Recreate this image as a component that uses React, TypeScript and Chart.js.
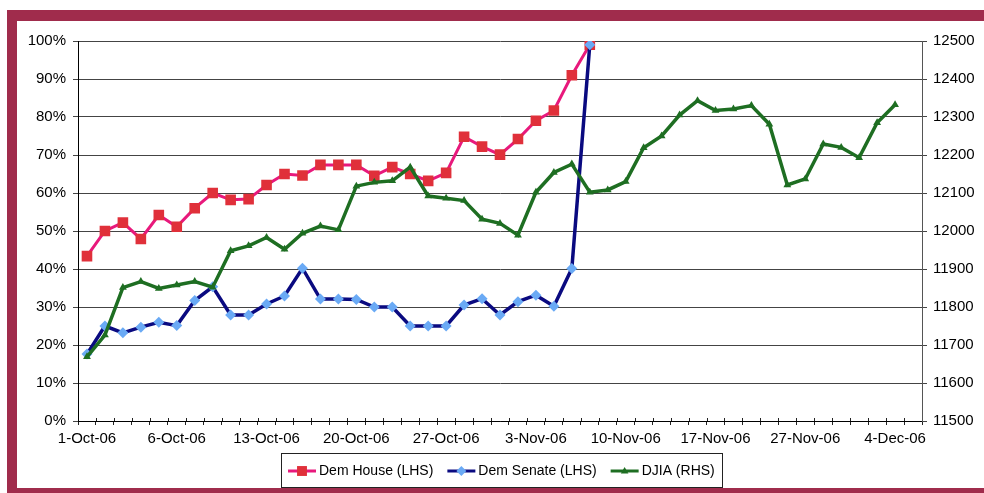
import React, { useEffect, useRef } from 'react';
import { Chart, registerables } from 'chart.js';

Chart.register(...registerables);

const categories = [
  '1-Oct-06', '2-Oct-06', '3-Oct-06', '4-Oct-06', '5-Oct-06', '6-Oct-06',
  '9-Oct-06', '10-Oct-06', '11-Oct-06', '12-Oct-06', '13-Oct-06',
  '16-Oct-06', '17-Oct-06', '18-Oct-06', '19-Oct-06', '20-Oct-06',
  '23-Oct-06', '24-Oct-06', '25-Oct-06', '26-Oct-06', '27-Oct-06',
  '30-Oct-06', '31-Oct-06', '1-Nov-06', '2-Nov-06', '3-Nov-06',
  '6-Nov-06', '7-Nov-06', '8-Nov-06', '9-Nov-06', '10-Nov-06',
  '13-Nov-06', '14-Nov-06', '15-Nov-06', '16-Nov-06', '17-Nov-06',
  '20-Nov-06', '21-Nov-06', '22-Nov-06', '24-Nov-06', '27-Nov-06',
  '28-Nov-06', '29-Nov-06', '30-Nov-06', '1-Dec-06', '4-Dec-06', '5-Dec-06',
];

const shownTickLabels = [
  '1-Oct-06', '6-Oct-06', '13-Oct-06', '20-Oct-06', '27-Oct-06',
  '3-Nov-06', '10-Nov-06', '17-Nov-06', '27-Nov-06', '4-Dec-06',
];

const demHouse: (number | null)[] = [
  43.4, 50, 52.2, 47.9, 54.2, 51.1, 56, 60, 58.2, 58.4, 62.1, 65, 64.6, 67.4, 67.4,
  67.4, 64.5, 66.8, 65, 63.2, 65.3, 74.8, 72.2, 70.1, 74.2, 79, 81.7, 91, 99,
  null, null, null, null, null, null, null, null, null, null, null, null, null,
  null, null, null, null, null,
];

const demSenate: (number | null)[] = [
  17.6, 25, 23.2, 24.7, 26, 25.1, 31.7, 35.3, 27.9, 27.9, 30.8, 32.9, 40.2, 32.1, 32.1,
  32, 30, 30, 25, 25, 25, 30.5, 32.2, 27.9, 31.4, 33.1, 30.2, 40.1, 99,
  null, null, null, null, null, null, null, null, null, null, null, null, null,
  null, null, null, null, null,
];

const djia: (number | null)[] = [
  11669, 11726, 11851, 11867, 11849, 11858, 11867, 11852, 11948, 11961, 11983, 11952,
  11994, 12013, 12003, 12118, 12128, 12132, 12168, 12092, 12086, 12080, 12031, 12020,
  11989, 12102, 12154, 12176, 12102, 12108, 12130, 12219, 12250, 12305, 12343, 12317,
  12321, 12330, 12281, 12121, 12137, 12229, 12220, 12193, 12285, 12332, null,
];

const FONT = '"Liberation Sans", Arial, sans-serif';
const FRAME = '#A02C4C';

function drawMarker(ctx: CanvasRenderingContext2D, style: string, x: number, y: number, r: number, fill: string) {
  ctx.beginPath();
  if (style === 'rect') {
    const s = r * Math.SQRT1_2;
    ctx.rect(x - s, y - s, 2 * s, 2 * s);
  } else if (style === 'rectRot') {
    ctx.moveTo(x - r, y);
    ctx.lineTo(x, y - r);
    ctx.lineTo(x + r, y);
    ctx.lineTo(x, y + r);
    ctx.closePath();
  } else {
    const a = r;
    ctx.moveTo(x, y - a);
    ctx.lineTo(x + a * 0.95, y + a * 0.6);
    ctx.lineTo(x - a * 0.95, y + a * 0.6);
    ctx.closePath();
  }
  ctx.fillStyle = fill;
  ctx.fill();
}

// page frame: white background with maroon bands top, left and bottom
const frame = {
  id: 'frame',
  beforeDraw(chart: any) {
    const ctx: CanvasRenderingContext2D = chart.ctx;
    const W = chart.width, H = chart.height;
    ctx.save();
    ctx.fillStyle = '#fff';
    ctx.fillRect(0, 0, W, H);
    ctx.fillStyle = FRAME;
    ctx.fillRect(7, 10, W - 7, 11);
    ctx.fillRect(7, 10, 10, H - 10);
    ctx.fillRect(7, H - 5, W - 7, 5);
    ctx.restore();
  },
};

const boxLegend = {
  id: 'boxLegend',
  afterDraw(chart: any) {
    const ctx: CanvasRenderingContext2D = chart.ctx;
    ctx.save();
    ctx.font = `14px ${FONT}`;
    const ds = chart.data.datasets;
    const lineLen = 28, gap = 3, itemGap = 14, pad = 7;
    const widths = ds.map((d: any) => ctx.measureText(d.label).width);
    let total = pad * 2 + itemGap * (ds.length - 1);
    widths.forEach((w: number) => { total += lineLen + gap + w; });
    const cx = (chart.chartArea.left + chart.chartArea.right) / 2 + 1.5;
    const top = 453, h = 34;
    const left = Math.round(cx - total / 2);
    ctx.strokeStyle = '#222';
    ctx.lineWidth = 1;
    ctx.strokeRect(left + 0.5, top + 0.5, Math.round(total), h);
    let x = left + pad;
    const cy = top + h / 2 + 1;
    ds.forEach((d: any, i: number) => {
      ctx.strokeStyle = d.borderColor;
      ctx.lineWidth = 3;
      ctx.beginPath();
      ctx.moveTo(x, cy);
      ctx.lineTo(x + lineLen, cy);
      ctx.stroke();
      const mr = d.pointStyle === 'rect' ? 7 : d.pointStyle === 'rectRot' ? 5 : 4;
      drawMarker(ctx, d.pointStyle, x + lineLen / 2, cy, mr, d.pointBackgroundColor);
      ctx.fillStyle = '#000';
      ctx.textBaseline = 'middle';
      ctx.textAlign = 'left';
      ctx.fillText(d.label, x + lineLen + gap, cy);
      x += lineLen + gap + widths[i] + itemGap;
    });
    ctx.restore();
  },
};

// draws the short upward half of each x tick so the marks cross the axis line
const crossTicks = {
  id: 'crossTicks',
  afterDraw(chart: any) {
    const xs = chart.scales.x;
    const ctx: CanvasRenderingContext2D = chart.ctx;
    const n = chart.data.labels.length;
    const step = (xs.right - xs.left) / n;
    ctx.save();
    ctx.strokeStyle = '#222';
    ctx.lineWidth = 1;
    ctx.beginPath();
    for (let i = 1; i < n; i++) {
      const x = Math.round(xs.left + step * i) + 0.5;
      ctx.moveTo(x, xs.top - 3);
      ctx.lineTo(x, xs.top);
    }
    ctx.stroke();
    ctx.restore();
  },
};

export default function App() {
  const ref = useRef<HTMLCanvasElement | null>(null);

  useEffect(() => {
    if (!ref.current) return;
    document.body.style.margin = '0';
    const chart = new Chart(ref.current, {
      type: 'line',
      data: {
        labels: categories,
        datasets: [
          {
            label: 'Dem House (LHS)',
            data: demHouse,
            yAxisID: 'y',
            borderColor: '#E8197C',
            backgroundColor: '#E0303A',
            pointBackgroundColor: '#E0303A',
            pointBorderColor: '#E0303A',
            pointStyle: 'rect',
            pointRadius: 7.5,
            pointBorderWidth: 0,
            borderWidth: 3,
            tension: 0,
            order: 3,
          },
          {
            label: 'Dem Senate (LHS)',
            data: demSenate,
            yAxisID: 'y',
            borderColor: '#0A0A80',
            backgroundColor: '#6AAAF5',
            pointBackgroundColor: '#6AAAF5',
            pointBorderColor: '#6AAAF5',
            pointStyle: 'rectRot',
            pointRadius: 5.5,
            pointBorderWidth: 0,
            borderWidth: 3.5,
            tension: 0,
            order: 2,
          },
          {
            label: 'DJIA (RHS)',
            data: djia,
            yAxisID: 'y1',
            borderColor: '#1E6E22',
            backgroundColor: '#1E6E22',
            pointBackgroundColor: '#1E6E22',
            pointBorderColor: '#1E6E22',
            pointStyle: 'triangle',
            pointRadius: 4.5,
            pointBorderWidth: 0,
            borderWidth: 3.5,
            tension: 0,
            order: 1,
          },
        ],
      },
      options: {
        animation: false,
        responsive: false,
        devicePixelRatio: 1,
        layout: { padding: { left: 0, right: 0, top: 41, bottom: 0 } },
        plugins: {
          legend: { display: false },
          tooltip: { enabled: false },
        },
        scales: {
          x: {
            type: 'category',
            offset: true,
            grid: {
              display: true,
              offset: true,
              drawOnChartArea: false,
              drawTicks: true,
              tickLength: 4,
              color: '#222',
            },
            border: { display: true, color: '#000', width: 1 },
            ticks: {
              autoSkip: false,
              maxRotation: 0,
              minRotation: 0,
              padding: 5,
              color: '#000',
              font: { family: FONT, size: 15 },
              callback: function (this: any, value: any) {
                const lab = this.getLabelForValue(value);
                return shownTickLabels.includes(lab) ? lab : '';
              },
            },
            afterFit: (scale: any) => { scale.height = 72; },
          },
          y: {
            type: 'linear',
            position: 'left',
            min: 0,
            max: 100,
            grid: {
              color: '#444',
              lineWidth: 1,
              drawTicks: true,
              tickLength: 5,
            },
            border: { display: true, color: '#000', width: 1 },
            ticks: {
              stepSize: 10,
              padding: 7,
              color: '#000',
              font: { family: FONT, size: 15 },
              callback: (v: any) => `${v}%`,
            },
            afterFit: (scale: any) => { scale.width = 78; },
          },
          y1: {
            type: 'linear',
            position: 'right',
            min: 11500,
            max: 12500,
            grid: {
              drawOnChartArea: false,
              color: '#444',
              drawTicks: true,
              tickLength: 5,
            },
            border: { display: true, color: '#555', width: 1 },
            ticks: {
              stepSize: 100,
              padding: 6,
              color: '#000',
              font: { family: FONT, size: 15 },
              callback: (v: any) => String(v),
            },
            afterFit: (scale: any) => { scale.width = 62; },
          },
        },
      },
      plugins: [frame, boxLegend, crossTicks],
    } as any);
    return () => chart.destroy();
  }, []);

  return (
    <div style={{ position: 'fixed', left: 0, top: 0, width: 984, height: 493, background: '#fff', overflow: 'hidden' }}>
      <canvas ref={ref} width={984} height={493} style={{ display: 'block', width: 984, height: 493 }} />
    </div>
  );
}
